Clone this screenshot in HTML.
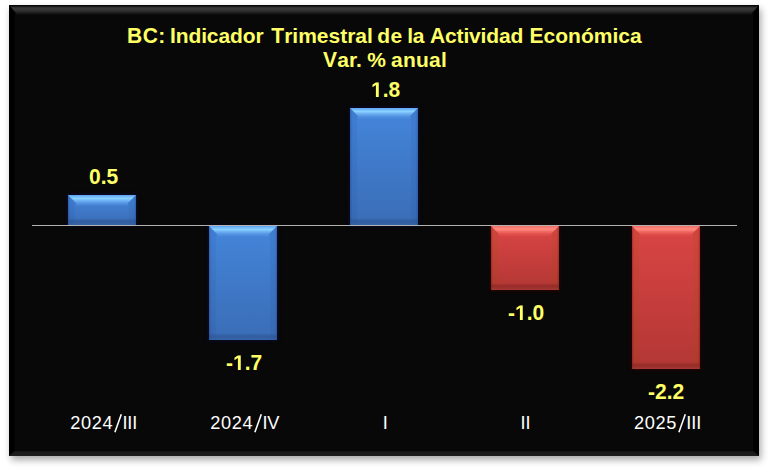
<!DOCTYPE html>
<html>
<head>
<meta charset="utf-8">
<title>BC: Indicador Trimestral de la Actividad Económica</title>
<style>
html,body{margin:0;padding:0;}
body{width:768px;height:468px;background:#fff;position:relative;overflow:hidden;
  font-family:"Liberation Sans",sans-serif;}
.panel{position:absolute;left:9px;top:5px;width:750px;height:451px;background:#080808;
  box-shadow:2px 4px 7px rgba(0,0,0,0.34);}
/* panel bevel */
.pb{position:absolute;}
.pb.top{left:0;top:0;width:750px;height:10px;
  background:linear-gradient(to bottom,#030303 0,#0c0c0c 1px,#2e2e2e 2.2px,#3a3a3a 3.8px,#2e2e2e 6px,#151515 8.5px,#080808 10px);
  clip-path:polygon(0 0,750px 0,743px 8px,743px 10px,7px 10px,7px 8px);}
.pb.left{left:0;top:0;width:6px;height:451px;background:linear-gradient(to right,#000 0,#000 4.5px,#050505 6px);
  clip-path:polygon(0 0,6px 8px,6px 446px,0 451px);}
.pb.right{right:0;top:0;width:6px;height:451px;background:linear-gradient(to left,#000 0,#000 4.5px,#050505 6px);
  clip-path:polygon(6px 0,0 8px,0 446px,6px 451px);}
.pb.bottom{left:0;bottom:0;width:750px;height:5px;background:linear-gradient(to bottom,#121212 0,#1b1b1b 1.5px,#1d1d1d 100%);
  clip-path:polygon(6px 0,744px 0,750px 5px,0 5px);}

.title{position:absolute;left:0;width:768px;text-align:center;color:#ffff66;font-weight:bold;
  font-size:21px;line-height:24px;white-space:nowrap;}
.tw{position:absolute;color:#ffff66;font-weight:bold;font-size:21px;line-height:24px;white-space:nowrap;}
.tw .cp{display:inline-block;font-style:normal;transform:scaleY(1.042);transform-origin:50% 19.3px;}
.axis{position:absolute;left:32px;top:225px;width:705px;height:1px;background:#b2b2b2;}

.bar{position:absolute;width:68px;}
.bar.blue{background:linear-gradient(to bottom,#4485da,#3a6db6);box-shadow:0 0 3px 1px rgba(8,12,45,.95);}
.bar.red{background:linear-gradient(to bottom,#da4545,#b23734);box-shadow:0 0 3px 1px rgba(45,0,0,.95);}
.bar i{position:absolute;display:block;}
.bar .t{left:0;top:0;width:68px;height:11px;clip-path:polygon(0 0,68px 0,60px 8px,60px 11px,8px 11px,8px 8px);}
.bar .l{left:0;top:0;width:7px;height:100%;}
.bar .r{right:0;top:0;width:7px;height:100%;}
.bar .b{left:0;bottom:0;width:68px;height:7px;}
.blue .t{background:linear-gradient(to bottom,#5da2f0 0,#74b8fa 14%,#88d2ff 32%,#6eb0f2 52%,#5594e4 74%,rgba(67,132,216,0) 100%);}
.blue .l{background:linear-gradient(to right,rgba(20,40,90,.35) 0,rgba(30,70,150,.14) 2px,rgba(30,70,150,.09) 100%);}
.blue .r{background:linear-gradient(to left,rgba(20,40,90,.35) 0,rgba(30,70,150,.14) 2px,rgba(30,70,150,.09) 100%);}
.blue .b{background:linear-gradient(to bottom,rgba(40,75,135,0) 0,rgba(40,75,135,.5) 45%,rgba(50,90,150,.45) 100%);}
.red .t{background:linear-gradient(to bottom,#f06a62 0,#fa7d74 14%,#ff8a80 30%,#f06862 52%,#e1504c 74%,rgba(217,68,68,0) 100%);}
.red .l{background:linear-gradient(to right,rgba(80,10,10,.35) 0,rgba(150,80,0,.16) 2px,rgba(150,80,0,.11) 100%);}
.red .r{background:linear-gradient(to left,rgba(80,10,10,.35) 0,rgba(150,80,0,.16) 2px,rgba(150,80,0,.11) 100%);}
.red .b{background:linear-gradient(to bottom,rgba(120,30,28,0) 0,rgba(125,32,30,.55) 45%,rgba(150,60,56,.5) 100%);}

.val{position:absolute;color:#ffff66;font-weight:bold;font-size:21px;line-height:20px;white-space:nowrap;transform:scaleY(1.045);transform-origin:50% 17.3px;}
.val .one{width:0.5562em;height:0.688em;vertical-align:baseline;fill:#ffff66;display:inline-block;}
.cat{position:absolute;color:#fff;font-size:18.2px;line-height:20px;white-space:nowrap;height:20px;}
.cat span{position:absolute;top:0;}
.cat .d{letter-spacing:0.62px;}
.cat .r{letter-spacing:-0.08px;}
.cat .sl{position:absolute;overflow:visible;}
</style>
</head>
<body>
<div class="panel">
  <div class="pb top"></div><div class="pb left"></div><div class="pb right"></div><div class="pb bottom"></div>
</div>

<span class="tw" id="w1" style="left:127.0px;letter-spacing:0.50px;top:24px;"><i class="cp">B</i><i class="cp">C</i>:</span>
<span class="tw" id="w2" style="left:170.0px;letter-spacing:-0.12px;top:24px;"><i class="cp">I</i>ndicador</span>
<span class="tw" id="w3" style="left:271.3px;letter-spacing:0.00px;top:24px;"><i class="cp">T</i>rimestral</span>
<span class="tw" id="w4" style="left:377.3px;letter-spacing:0.50px;top:24px;">de</span>
<span class="tw" id="w5" style="left:407.3px;letter-spacing:-0.30px;top:24px;">la</span>
<span class="tw" id="w6" style="left:430.0px;letter-spacing:-0.15px;top:24px;"><i class="cp">A</i>ctividad</span>
<span class="tw" id="w7" style="left:529.6px;letter-spacing:0.00px;top:24px;"><i class="cp">E</i>conómica</span>
<span class="tw" id="w8" style="left:323.1px;letter-spacing:0.10px;top:48px;"><i class="cp">V</i>ar.</span>
<span class="tw" id="w9" style="left:367.2px;letter-spacing:-0.50px;top:48px;">%</span>
<span class="tw" id="w10" style="left:391.1px;letter-spacing:0.20px;top:48px;">anual</span>


<div class="bar blue" style="left:68px;top:195px;height:30px;"><i class="l"></i><i class="r"></i><i class="b"></i><i class="t"></i></div>
<div class="bar blue" style="left:209px;top:226px;height:114px;"><i class="l"></i><i class="r"></i><i class="b"></i><i class="t"></i></div>
<div class="bar blue" style="left:350px;top:108px;height:117px;"><i class="l"></i><i class="r"></i><i class="b"></i><i class="t"></i></div>
<div class="bar red" style="left:491px;top:226px;height:64px;"><i class="l"></i><i class="r"></i><i class="b"></i><i class="t"></i></div>
<div class="bar red" style="left:632px;top:226px;height:143px;"><i class="l"></i><i class="r"></i><i class="b"></i><i class="t"></i></div>

<div class="axis"></div>

<span class="val" id="v1" style="left:89px;top:167px;">0.5</span>
<span class="val" id="v2" style="left:226px;top:353px;">-<svg class="one" viewBox="0 0 1139 1409"><path d="M478 1409V239L140 450V229L493 0H759V1409Z"/></svg>.7</span>
<span class="val" id="v3" style="left:371px;top:80px;"><svg class="one" viewBox="0 0 1139 1409"><path d="M478 1409V239L140 450V229L493 0H759V1409Z"/></svg>.8</span>
<span class="val" id="v4" style="left:508px;top:303px;">-<svg class="one" viewBox="0 0 1139 1409"><path d="M478 1409V239L140 450V229L493 0H759V1409Z"/></svg>.0</span>
<span class="val" id="v5" style="left:648px;top:382px;">-2.2</span>

<div class="cat" id="c1" style="left:70.8px;top:413px;"><span class="d" style="left:-0.6px">2024</span><svg class="sl" width="12" height="22" viewBox="0 0 12 22" style="left:41.5px;top:0"><line x1="9.3" y1="1.2" x2="2.9" y2="19.2" stroke="#fff" stroke-width="1.55"/></svg><span class="r" style="left:51.6px">III</span></div>
<div class="cat" id="c2" style="left:210.8px;top:413px;"><span class="d" style="left:-0.6px">2024</span><svg class="sl" width="12" height="22" viewBox="0 0 12 22" style="left:41.5px;top:0"><line x1="9.3" y1="1.2" x2="2.9" y2="19.2" stroke="#fff" stroke-width="1.55"/></svg><span class="r" style="left:51.6px">IV</span></div>
<div class="cat" id="c3" style="left:382.7px;top:413px;"><span class="r" style="left:0">I</span></div>
<div class="cat" id="c4" style="left:520.6px;top:413px;"><span class="r" style="left:0">II</span></div>
<div class="cat" id="c5" style="left:634.6px;top:413px;"><span class="d" style="left:-0.6px">2025</span><svg class="sl" width="12" height="22" viewBox="0 0 12 22" style="left:41.5px;top:0"><line x1="9.3" y1="1.2" x2="2.9" y2="19.2" stroke="#fff" stroke-width="1.55"/></svg><span class="r" style="left:51.6px">III</span></div>
</body>
</html>
